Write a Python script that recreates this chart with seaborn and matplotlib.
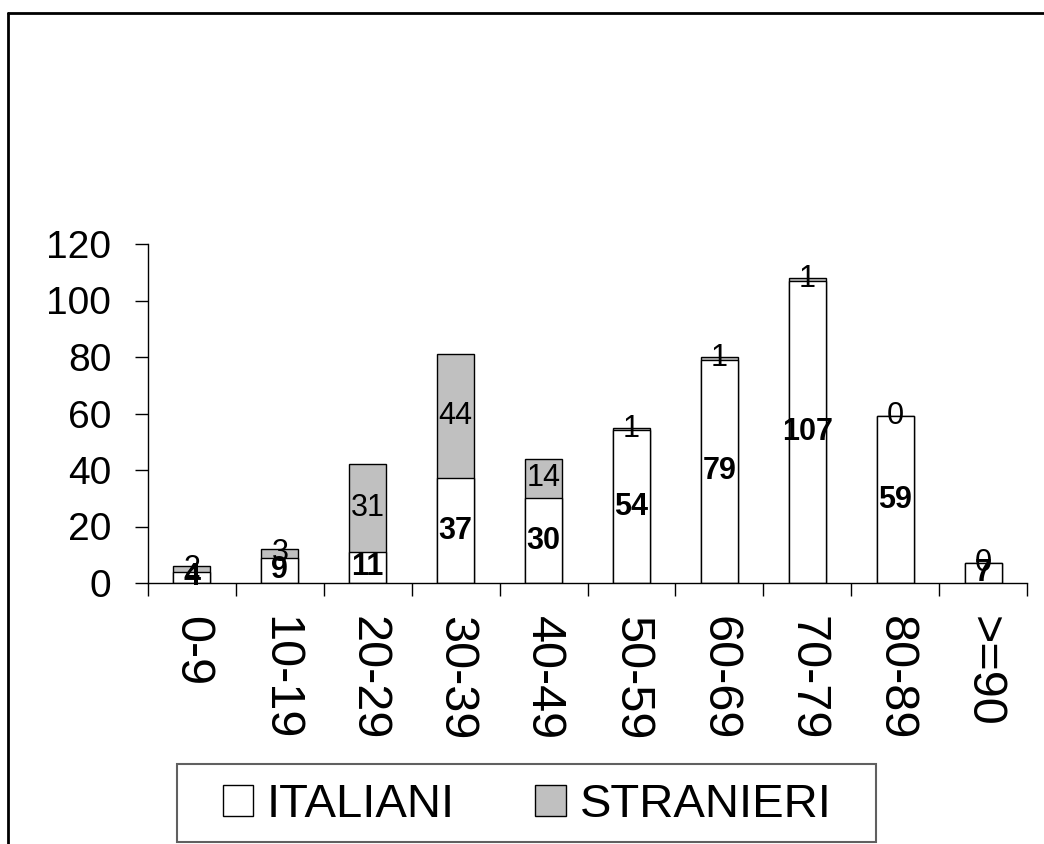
import matplotlib
matplotlib.use("Agg")
import matplotlib.pyplot as plt
from matplotlib.patches import Rectangle, Patch
from matplotlib.lines import Line2D
import seaborn as sns
import numpy as np

categories = ["0-9", "10-19", "20-29", "30-39", "40-49", "50-59", "60-69", "70-79", "80-89", ">=90"]
italiani = [4, 9, 11, 37, 30, 54, 79, 107, 59, 7]
stranieri = [2, 3, 31, 44, 14, 1, 1, 1, 0, 0]
y_ticks = [0, 20, 40, 60, 80, 100, 120]
legend_labels = ["ITALIANI", "STRANIERI"]

sns.set_theme(style="white")
plt.rcParams["font.family"] = ["Liberation Sans", "DejaVu Sans"]
plt.rcParams["text.color"] = "black"
plt.rcParams["xtick.color"] = "black"
plt.rcParams["ytick.color"] = "black"
plt.rcParams["axes.labelcolor"] = "black"

W, H = 1044, 844
fig = plt.figure(figsize=(W / 100, H / 100), dpi=100)
ax = fig.add_axes([148 / W, 1 - 583 / H, (1027 - 148) / W, (583 - 244) / H])

totals = [a + b for a, b in zip(italiani, stranieri)]
sns.barplot(x=categories, y=totals, color="#C0C0C0", saturation=1, width=0.42,
            edgecolor="black", linewidth=1.0, ax=ax)
sns.barplot(x=categories, y=italiani, color="white", saturation=1, width=0.42,
            edgecolor="black", linewidth=1.0, ax=ax)

ax.set_xlim(-0.5, len(categories) - 0.5)
ax.set_ylim(0, 120)
ax.set_yticks(y_ticks)
ax.set_yticklabels([str(v) for v in y_ticks], fontsize=28, color="black")
ax.set_xticks(range(len(categories)))
ax.set_xticklabels(categories, fontsize=35, rotation=-90, ha="center", va="top", color="black")
ax.set_xticks(np.arange(-0.5, len(categories), 1.0), minor=True)
ax.tick_params(axis="x", which="major", length=0, pad=24)
ax.tick_params(axis="x", which="minor", length=9.5, width=1, color="black", direction="out", bottom=True)
ax.tick_params(axis="y", which="major", length=9.5, width=1, color="black", direction="out", left=True, pad=17)
ax.set_xlabel("")
ax.set_ylabel("")
for s in ["top", "right"]:
    ax.spines[s].set_visible(False)
for s in ["left", "bottom"]:
    ax.spines[s].set_color("black")
    ax.spines[s].set_linewidth(1.0)
ax.grid(False)

for i, (a, b) in enumerate(zip(italiani, stranieri)):
    ax.text(i, a / 2, str(a), ha="center", va="center", fontsize=22, fontweight="bold", color="black")
    ax.text(i, a + b / 2, str(b), ha="center", va="center", fontsize=22, color="black")

# legend
handles = [Patch(facecolor="white", edgecolor="black", linewidth=1.0),
           Patch(facecolor="#C0C0C0", edgecolor="black", linewidth=1.0)]
fig.legend(handles, legend_labels, loc="center left", bbox_to_anchor=(199 / W, 1 - 805 / H),
           ncol=2, frameon=False, fontsize=34, borderpad=0, handlelength=0.64,
           handleheight=0.61, handletextpad=0.3, columnspacing=1.7)
fig.add_artist(Rectangle((177 / W, 1 - 842 / H), (876 - 177) / W, (842 - 764) / H,
                         transform=fig.transFigure, fill=False, edgecolor="#606060", linewidth=1.5))

# outer border (left and top visible)
fig.add_artist(Line2D([8 / W, 8 / W], [0, 1 - 13 / H], transform=fig.transFigure, color="black", linewidth=2))
fig.add_artist(Line2D([8 / W, 1], [1 - 13 / H, 1 - 13 / H], transform=fig.transFigure, color="black", linewidth=2))

fig.savefig("out.png", dpi=100, facecolor="white")
